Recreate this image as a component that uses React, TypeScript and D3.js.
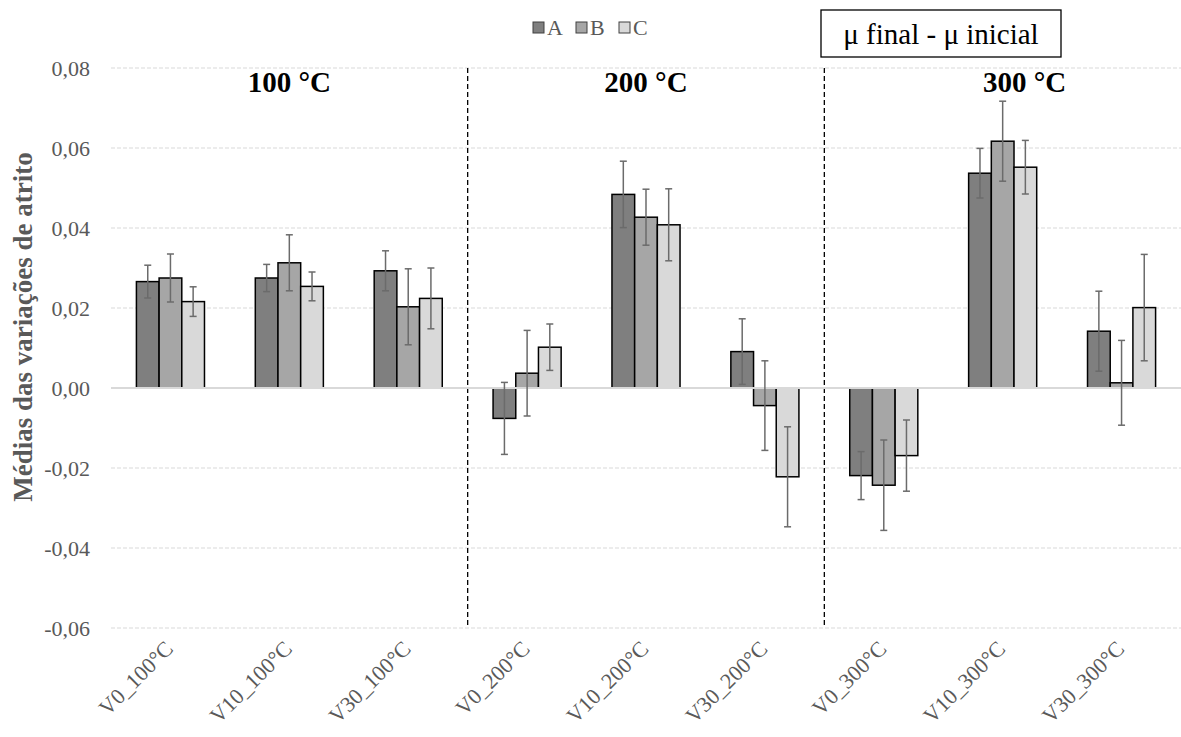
import React from "react";
import * as d3 from "d3";

const width = 1181;
const height = 737;

const categories = [
  "V0_100°C", "V10_100°C", "V30_100°C",
  "V0_200°C", "V10_200°C", "V30_200°C",
  "V0_300°C", "V10_300°C", "V30_300°C",
];
const series = ["A", "B", "C"];
const colors = ["#7f7f7f", "#a6a6a6", "#d9d9d9"];

// mean values per series
const valuesA = [0.0266, 0.0275, 0.0293, -0.0076, 0.0484, 0.0091, -0.0219, 0.0537, 0.0142];
const valuesB = [0.0275, 0.0313, 0.0203, 0.0037, 0.0427, -0.0044, -0.0243, 0.0617, 0.0013];
const valuesC = [0.0216, 0.0254, 0.0224, 0.0102, 0.0408, -0.0222, -0.0169, 0.0552, 0.0201];
// error (+/-)
const errorsA = [0.0041, 0.0034, 0.005, 0.009, 0.0083, 0.0082, 0.006, 0.0062, 0.01];
const errorsB = [0.006, 0.007, 0.0095, 0.0107, 0.007, 0.0112, 0.0113, 0.01, 0.0106];
const errorsC = [0.0037, 0.0036, 0.0076, 0.0058, 0.009, 0.0125, 0.0089, 0.0067, 0.0133];

const yTicks = [-0.06, -0.04, -0.02, 0, 0.02, 0.04, 0.06, 0.08];
const groupTitles = ["100 °C", "200 °C", "300 °C"];

const margin = { top: 68, right: 0, bottom: 109, left: 111 };

const App = () => {
  const x0 = d3
    .scaleBand()
    .domain(categories)
    .range([margin.left, width - margin.right])
    .padding(0);

  const x1 = d3
    .scaleBand()
    .domain(series)
    .range([0, x0.bandwidth()])
    .paddingInner(0)
    .paddingOuter(1.12);

  const y = d3
    .scaleLinear()
    .domain([-0.06, 0.08])
    .range([height - margin.bottom, margin.top]);

  const vals = [valuesA, valuesB, valuesC];
  const errs = [errorsA, errorsB, errorsC];
  const fmt = (v: number) => d3.format(".2f")(v).replace(".", ",").replace("−", "-");

  const serif = "'Liberation Serif', 'Times New Roman', serif";
  const titleCenters = [1, 4, 7].map((i) => (x0(categories[i]) as number) + x0.bandwidth() / 2);
  titleCenters[2] += 22;
  const separators = [3, 6].map((i) => x0(categories[i]) as number);

  const legendX = [533, 576, 619];

  return (
    <svg width={width} height={height} style={{ position: "absolute", left: 0, top: 0 }}>
      <rect width={width} height={height} fill="#fff" />
      {/* gridlines */}
      {yTicks.filter((t) => t !== 0).map((t) => (
        <line
          key={t}
          x1={margin.left}
          x2={width - margin.right}
          y1={y(t)}
          y2={y(t)}
          stroke="#d9d9d9"
          strokeDasharray="4,2"
          strokeWidth={1}
        />
      ))}
      {/* y labels */}
      {yTicks.map((t) => (
        <text
          key={"l" + t}
          x={90}
          y={y(t)}
          dy="0.35em"
          textAnchor="end"
          fontFamily={serif}
          fontSize={22}
          fill="#595959"
        >
          {fmt(t)}
        </text>
      ))}
      <text
        transform={`translate(32,${327}) rotate(-90)`}
        textAnchor="middle"
        fontFamily={serif}
        fontSize={27}
        fontWeight="bold"
        fill="#595959"
      >
        Médias das variações de atrito
      </text>
      {/* separators */}
      {separators.map((sx) => (
        <line
          key={sx}
          x1={sx}
          x2={sx}
          y1={y(0.08)}
          y2={y(-0.06)}
          stroke="#000"
          strokeWidth={1.3}
          strokeDasharray="5,3"
        />
      ))}
      {/* bars */}
      {categories.map((c, i) => (
        <g key={c} transform={`translate(${x0(c)},0)`}>
          {series.map((s, j) => {
            const v = vals[j][i];
            const bx = x1(s) as number;
            return (
              <rect
                key={s}
                x={bx}
                y={Math.min(y(v), y(0))}
                width={x1.bandwidth()}
                height={Math.abs(y(v) - y(0))}
                fill={colors[j]}
                stroke="#000"
                strokeWidth={1.5}
              />
            );
          })}
        </g>
      ))}
      {/* zero line */}
      <line
        x1={margin.left}
        x2={width - margin.right}
        y1={y(0)}
        y2={y(0)}
        stroke="#d9d9d9"
        strokeWidth={2}
      />
      {/* error bars */}
      {categories.map((c, i) => (
        <g key={"e" + c} transform={`translate(${x0(c)},0)`}>
          {series.map((s, j) => {
            const v = vals[j][i];
            const e = errs[j][i];
            const cx = (x1(s) as number) + x1.bandwidth() / 2;
            return (
              <g key={s} stroke="#6b6b6b" strokeWidth={1.5}>
                <line x1={cx} x2={cx} y1={y(v + e)} y2={y(v - e)} />
                <line x1={cx - 3.5} x2={cx + 3.5} y1={y(v + e)} y2={y(v + e)} />
                <line x1={cx - 3.5} x2={cx + 3.5} y1={y(v - e)} y2={y(v - e)} />
              </g>
            );
          })}
        </g>
      ))}
      {/* x labels */}
      {categories.map((c) => {
        const cx = (x0(c) as number) + x0.bandwidth() / 2 + 4;
        return (
          <text
            key={"x" + c}
            transform={`translate(${cx},${650}) rotate(-45)`}
            textAnchor="end"
            fontFamily={serif}
            fontSize={22}
            fill="#595959"
          >
            {c}
          </text>
        );
      })}
      {/* group titles */}
      {groupTitles.map((t, i) => (
        <text
          key={t}
          x={titleCenters[i]}
          y={92}
          textAnchor="middle"
          fontFamily={serif}
          fontSize={29}
          fontWeight="bold"
          fill="#000"
        >
          {t}
        </text>
      ))}
      {/* legend */}
      {series.map((s, j) => (
        <g key={"lg" + s}>
          <rect x={legendX[j]} y={22} width={11} height={11} fill={colors[j]} stroke="#404040" strokeWidth={1} />
          <text x={legendX[j] + 14} y={35} fontFamily={serif} fontSize={22} fill="#595959">
            {s}
          </text>
        </g>
      ))}
      {/* annotation box */}
      <rect x={821} y={10} width={240} height={47} fill="#fff" stroke="#000" strokeWidth={1.3} />
      <text x={941} y={44} textAnchor="middle" fontFamily={serif} fontSize={29} fill="#000">
        μ final - μ inicial
      </text>
    </svg>
  );
};

export default App;
